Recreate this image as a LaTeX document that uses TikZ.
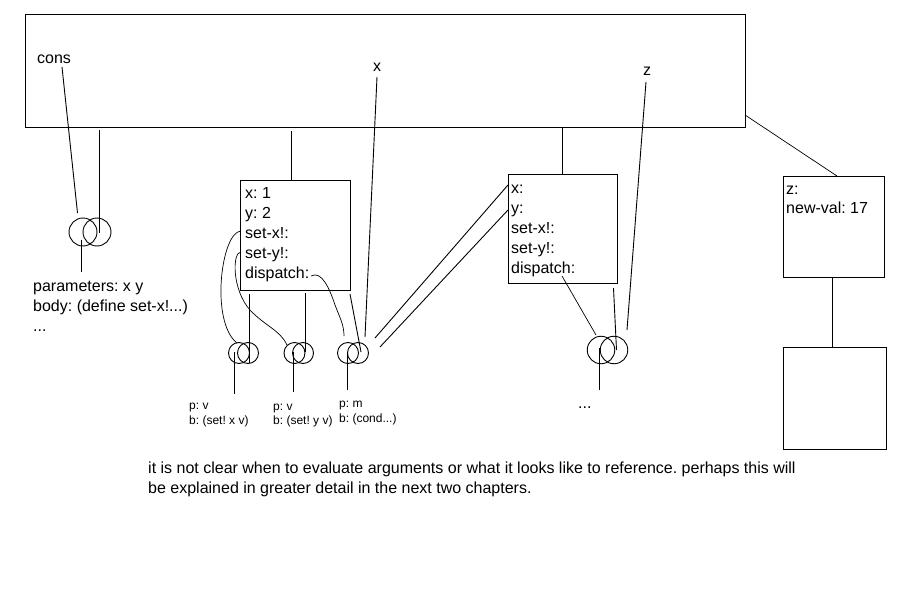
\documentclass[tikz,border=0pt]{standalone}
\usepackage{fontspec}
\setmainfont{Liberation Sans}
\frenchspacing
\begin{document}
\begin{tikzpicture}[x=1pt,y=-1pt,
  box/.style={draw, line width=0.9pt, inner sep=0, anchor=north west},
  lbl/.style={font=\fontsize{16}{20}\selectfont, inner sep=0, anchor=base west},
  sml/.style={font=\fontsize{12}{14.5}\selectfont, inner sep=0, anchor=base west},
  ln/.style={line width=0.9pt},
  cv/.style={line width=0.7pt},
  ringbig/.style={draw, circle, line width=0.9pt, inner sep=0, minimum size=28pt},
  ringsml/.style={draw, circle, line width=0.9pt, inner sep=0, minimum size=21pt}]
\useasboundingbox (0,0) rectangle (908,594);
% boxes
\node[box, minimum width=720pt, minimum height=113pt] (env) at (25,14) {};
\node[box, minimum width=110pt, minimum height=110pt] (b1) at (240,180) {};
\node[box, minimum width=109pt, minimum height=109pt] (b2) at (508,174) {};
\node[box, minimum width=101pt, minimum height=101pt] (b3) at (783,176) {};
\node[box, minimum width=103pt, minimum height=102pt] (b4) at (783,347) {};
% labels in env
\node[lbl] (tcons) at (37,64) {cons};
\node[lbl] (tx) at (373,71) {x};
\node[lbl] (tz) at (643,76) {z};
% box 1 text
\node[lbl] (b1x) at (245,198) {x: 1};
\node[lbl] (b1y) at (245,218) {y: 2};
\node[lbl] (b1sx) at (245,238) {set-x!:};
\node[lbl] (b1sy) at (245,258) {set-y!:};
\node[lbl] (b1d) at (245,278) {dispatch:};
% box 2 text
\node[lbl] (b2x) at (511,193) {x:};
\node[lbl] (b2y) at (511,213) {y:};
\node[lbl] (b2sx) at (511,233) {set-x!:};
\node[lbl] (b2sy) at (511,253) {set-y!:};
\node[lbl] (b2d) at (511,273) {dispatch:};
% box 3 text
\node[lbl] (b3z) at (786,194) {z:};
\node[lbl] (b3n) at (786,213) {new-val: 17};
% procedure text
\node[lbl] (p1) at (33,291.5) {parameters: x y};
\node[lbl] (p2) at (33,311.5) {body: (define set-x!...)};
\node[lbl] (p3) at (33,331) {...};
\node[sml] (s1a) at (189,409.5) {p: v};
\node[sml] (s1b) at (189,424) {b: (set! x v)};
\node[sml] (s2a) at (273,410) {p: v};
\node[sml] (s2b) at (273,424.5) {b: (set! y v)};
\node[sml] (s3a) at (339,407.5) {p: m};
\node[sml] (s3b) at (339,422) {b: (cond...)};
\node[lbl] (dots) at (578,408) {...};
\node[lbl] (n1) at (148,473) {it is not clear when to evaluate arguments or what it looks like to reference. perhaps this will};
\node[lbl] (n2) at (148,493) {be explained in greater detail in the next two chapters.};
% rings
\node[ringbig] (r0a) at (83,232) {};
\node[ringbig] (r0b) at (97,232) {};
\node[ringsml] (r1a) at (239,353) {};
\node[ringsml] (r1b) at (248,353) {};
\node[ringsml] (r2a) at (294.5,353) {};
\node[ringsml] (r2b) at (303,353) {};
\node[ringsml] (r3a) at (348,353) {};
\node[ringsml] (r3b) at (358,353) {};
\node[ringbig, minimum size=27.5pt] (r4a) at (601,350) {};
\node[ringbig, minimum size=27.5pt] (r4b) at (614,350) {};
% connectors
\draw[ln] (62,67) -- (77.5,213);
\draw[ln] (99.3,130) -- (99.3,233);
\draw[ln] (81.5,240) -- (81.5,272);
\draw[ln] (291,131) -- (b1.north -| 291,0);
\draw[ln] (249,294) -- (249,363);
\draw[ln] (305,293) -- (305,352);
\draw[ln] (350,294) -- (361,352);
\draw[ln] (377,77) -- (365,337);
\draw[ln] (508,185) -- (375,338);
\draw[ln] (508,210) -- (380,347);
\draw[ln] (562,128) -- (562,174);
\draw[cv] (562,276) -- (596,335);
\draw[ln] (613.5,288) -- (616.5,350);
\draw[ln] (646,82) -- (627,330);
\draw[ln] (599,348) -- (599,390);
\draw[cv] (745,115) -- (837,176);
\draw[ln] (832,277) -- (832,347);
\draw[ln] (234.5,352) -- (234.5,394);
\draw[ln] (293,352) -- (293,392);
\draw[ln] (347,352) -- (347,390);
% curves
\draw[cv] (241,231) .. controls (221,232) and (210,322) .. (237,343);
\draw[cv] (241,252) .. controls (232,252) and (232,290) .. (250,310) .. controls (265,326) and (280,330) .. (287,345);
\draw[cv] (311,276) .. controls (322,270) and (330,290) .. (335,305) .. controls (340,318) and (344,325) .. (344,336);
\end{tikzpicture}
\end{document}
